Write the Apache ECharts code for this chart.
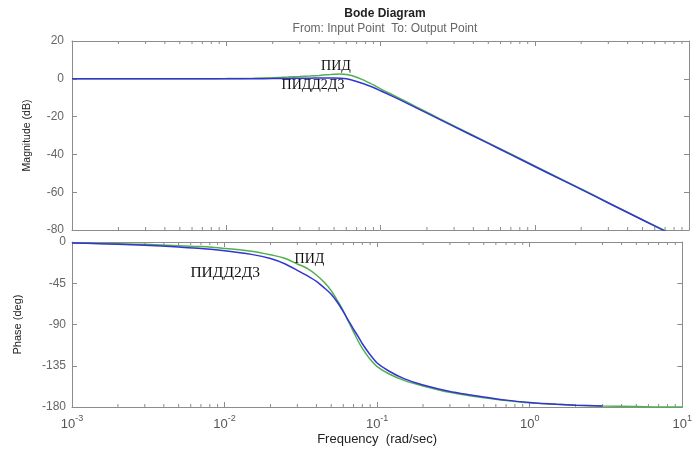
<!DOCTYPE html>
<html>
<head>
<meta charset="utf-8">
<script src="https://cdn.jsdelivr.net/npm/echarts@6/dist/echarts.min.js"></script>
<style>
html,body{margin:0;padding:0;background:#fff;}
#chart{width:695px;height:450px;}
</style>
</head>
<body>
<div id="chart"></div>
<script>
// Frequencies (rad/sec)
const freq = [0.001, 0.0015, 0.002, 0.003, 0.005, 0.007, 0.01, 0.015, 0.02, 0.025, 0.03, 0.035, 0.04, 0.045, 0.05, 0.055, 0.06, 0.065, 0.07, 0.075, 0.08, 0.09, 0.1, 0.12, 0.15, 0.2, 0.3, 0.5, 0.7, 1, 1.5, 2, 3, 5, 7, 10];
// Magnitude (dB)
const magPID     = [0, 0, 0, 0, 0, 0, 0.1, 0.3, 0.6, 0.9, 1.2, 1.5, 1.8, 2.1, 2.4, 2.5, 2.3, 1.7, 0.8, -0.2, -1.2, -3.2, -5.3, -8.5, -12.5, -17.7, -24.9, -33.9, -39.8, -46.1, -53.3, -58.3, -65.5, -74.5, -80.4, -86.7];
const magPIDD2D3 = [0, 0, 0, 0, 0, 0, 0, 0.05, 0.1, 0.2, 0.3, 0.35, 0.4, 0.4, 0.4, 0.3, 0, -0.6, -1.4, -2.2, -3.0, -4.6, -6.3, -9.3, -13.1, -18.2, -25.3, -34.2, -40.1, -46.4, -53.5, -58.5, -65.7, -74.7, -80.6, -86.9];
// Phase (deg)
const phasePID     = [-1, -1.5, -2, -2.5, -4, -5, -7, -10, -14, -18, -24, -29, -36, -44, -53, -64, -75, -87, -98, -108, -116, -128, -136, -144, -151, -157, -164, -170, -173, -175.5, -177, -178, -179, -179.5, -180, -180];
const phasePIDD2D3 = [-1, -1.8, -2.5, -3.5, -5.5, -7, -9.5, -13.5, -18, -24, -31, -37, -43, -50, -57, -66, -76, -86, -95, -103, -111, -123, -132, -141, -149, -156, -163, -169, -172.5, -175, -177, -178, -179];
// Tick settings
const magTicks = {min: -80, max: 20, interval: 20};
const phaseTicks = {min: -180, max: 0, interval: 45};
const seriesNames = ['ПИД', 'ПИДД2Д3'];

const GREEN = '#4fb04f';
const BLUE = '#3434d4';
const AX = '#8c8c8c';

function zip(xs, ys) { return ys.map((y, i) => [xs[i], y]); }

const minorFreqs = [];
for (let e = -3; e < 1; e++) {
  for (let k = 2; k <= 9; k++) minorFreqs.push(+(k * Math.pow(10, e)).toPrecision(3));
}

function minorTickSeries(xi, yi) {
  return {
    type: 'custom', xAxisIndex: xi, yAxisIndex: yi, silent: true, z: 1,
    data: minorFreqs.map(f => [f, 0]),
    renderItem: function (params, api) {
      const cs = params.coordSys;
      const x = api.coord([api.value(0), api.value(1)])[0];
      const st = {stroke: AX, lineWidth: 1};
      return {
        type: 'group', children: [
          {type: 'line', shape: {x1: x, y1: cs.y, x2: x, y2: cs.y + 3}, style: st},
          {type: 'line', shape: {x1: x, y1: cs.y + cs.height, x2: x, y2: cs.y + cs.height - 3}, style: st}
        ]
      };
    }
  };
}

function logLabel(v) {
  const e = Math.round(Math.log10(v));
  return '{b|10}{s|' + e + '}';
}

const xBase = {
  type: 'log', logBase: 10, min: 0.001, max: 10, splitNumber: 4,
  axisLine: {show: true, onZero: false, lineStyle: {color: AX, width: 1}},
  axisTick: {show: true, inside: true, length: 5, lineStyle: {color: AX}},
  splitLine: {show: false},
  minorTick: {show: false}
};

const yBase = {
  type: 'value',
  axisLine: {show: true, onZero: false, lineStyle: {color: AX, width: 1}},
  axisTick: {show: true, inside: true, length: 5, lineStyle: {color: AX}},
  splitLine: {show: false}
};

function textLabel(text, size) {
  return {show: true, position: 'inside', formatter: text, fontFamily: 'Liberation Serif', fontSize: size, color: '#111'};
}

const option = {
  backgroundColor: '#fff',
  animation: false,
  title: {
    text: 'Bode Diagram',
    subtext: 'From: Input Point  To: Output Point',
    left: 380, top: 3, textAlign: 'center', itemGap: 3,
    textStyle: {fontFamily: 'Liberation Sans', fontSize: 12, fontWeight: 'bold', color: '#222'},
    subtextStyle: {fontFamily: 'Liberation Sans', fontSize: 12, color: '#666'}
  },
  grid: [
    {left: 72, right: 6, top: 41, height: 189},
    {left: 72, right: 6, top: 242, height: 165}
  ],
  xAxis: [
    Object.assign({}, xBase, {gridIndex: 0, position: 'bottom', axisLabel: {show: false}}),
    Object.assign({}, xBase, {gridIndex: 0, position: 'top', axisLabel: {show: false}}),
    Object.assign({}, xBase, {
      gridIndex: 1, position: 'bottom',
      name: 'Frequency  (rad/sec)', nameLocation: 'middle', nameGap: 26,
      nameTextStyle: {fontFamily: 'Liberation Sans', fontSize: 13, color: '#222'},
      axisLabel: {
        show: true, margin: 7, showMinLabel: true, showMaxLabel: true,
        formatter: logLabel,
        rich: {
          b: {fontFamily: 'Liberation Sans', fontSize: 13, color: '#555'},
          s: {fontFamily: 'Liberation Sans', fontSize: 9, color: '#555', padding: [0, 0, 12, 0]}
        }
      }
    }),
    Object.assign({}, xBase, {gridIndex: 1, position: 'top', axisLabel: {show: false}})
  ],
  yAxis: [
    Object.assign({}, yBase, {
      gridIndex: 0, position: 'left', min: magTicks.min, max: magTicks.max, interval: magTicks.interval,
      name: 'Magnitude (dB)', nameLocation: 'middle', nameGap: 39, nameRotate: 90,
      nameTextStyle: {fontFamily: 'Liberation Sans', fontSize: 10.5, color: '#222'},
      axisLabel: {margin: 8, fontFamily: 'Liberation Sans', fontSize: 12, color: '#666'}
    }),
    Object.assign({}, yBase, {
      gridIndex: 0, position: 'right', min: magTicks.min, max: magTicks.max, interval: magTicks.interval,
      axisLabel: {show: false}
    }),
    Object.assign({}, yBase, {
      gridIndex: 1, position: 'left', min: phaseTicks.min, max: phaseTicks.max, interval: phaseTicks.interval,
      name: 'Phase (deg)', nameLocation: 'middle', nameGap: 49, nameRotate: 90,
      nameTextStyle: {fontFamily: 'Liberation Sans', fontSize: 11, color: '#222'},
      axisLabel: {margin: 6, fontFamily: 'Liberation Sans', fontSize: 12, color: '#666'}
    }),
    Object.assign({}, yBase, {
      gridIndex: 1, position: 'right', min: phaseTicks.min, max: phaseTicks.max, interval: phaseTicks.interval,
      axisLabel: {show: false}
    })
  ],
  series: [
    minorTickSeries(0, 0),
    minorTickSeries(2, 2),
    {
      name: seriesNames[0], type: 'line', xAxisIndex: 0, yAxisIndex: 0, z: 3,
      data: zip(freq, magPID), showSymbol: false, smooth: 0.25, clip: true,
      lineStyle: {color: GREEN, width: 1.5}, itemStyle: {color: GREEN},
      markPoint: {
        symbol: 'circle', symbolSize: 1, itemStyle: {color: 'rgba(0,0,0,0)'},
        label: textLabel(seriesNames[0], 14),
        data: [{coord: [0.0514, 6.8]}]
      }
    },
    {
      name: seriesNames[1], type: 'line', xAxisIndex: 0, yAxisIndex: 0, z: 4,
      data: zip(freq, magPIDD2D3), showSymbol: false, smooth: 0.25, clip: true,
      lineStyle: {color: BLUE, width: 1.5}, itemStyle: {color: BLUE},
      markPoint: {
        symbol: 'circle', symbolSize: 1, itemStyle: {color: 'rgba(0,0,0,0)'},
        label: textLabel(seriesNames[1], 14),
        data: [{coord: [0.0365, -3.3]}]
      }
    },
    {
      name: seriesNames[0], type: 'line', xAxisIndex: 2, yAxisIndex: 2, z: 3,
      data: zip(freq, phasePID), showSymbol: false, smooth: 0.25, clip: true,
      lineStyle: {color: GREEN, width: 1.5}, itemStyle: {color: GREEN},
      markPoint: {
        symbol: 'circle', symbolSize: 1, itemStyle: {color: 'rgba(0,0,0,0)'},
        label: textLabel(seriesNames[0], 14),
        data: [{coord: [0.036, -19]}]
      }
    },
    {
      name: seriesNames[1], type: 'line', xAxisIndex: 2, yAxisIndex: 2, z: 4,
      data: zip(freq, phasePIDD2D3), showSymbol: false, smooth: 0.25, clip: true,
      lineStyle: {color: BLUE, width: 1.5}, itemStyle: {color: BLUE},
      markPoint: {
        symbol: 'circle', symbolSize: 1, itemStyle: {color: 'rgba(0,0,0,0)'},
        label: textLabel(seriesNames[1], 15.5),
        data: [{coord: [0.0101, -34]}]
      }
    }
  ]
};

const chart = echarts.init(document.getElementById('chart'), null, {renderer: 'canvas'});
chart.setOption(option);
</script>
</body>
</html>
